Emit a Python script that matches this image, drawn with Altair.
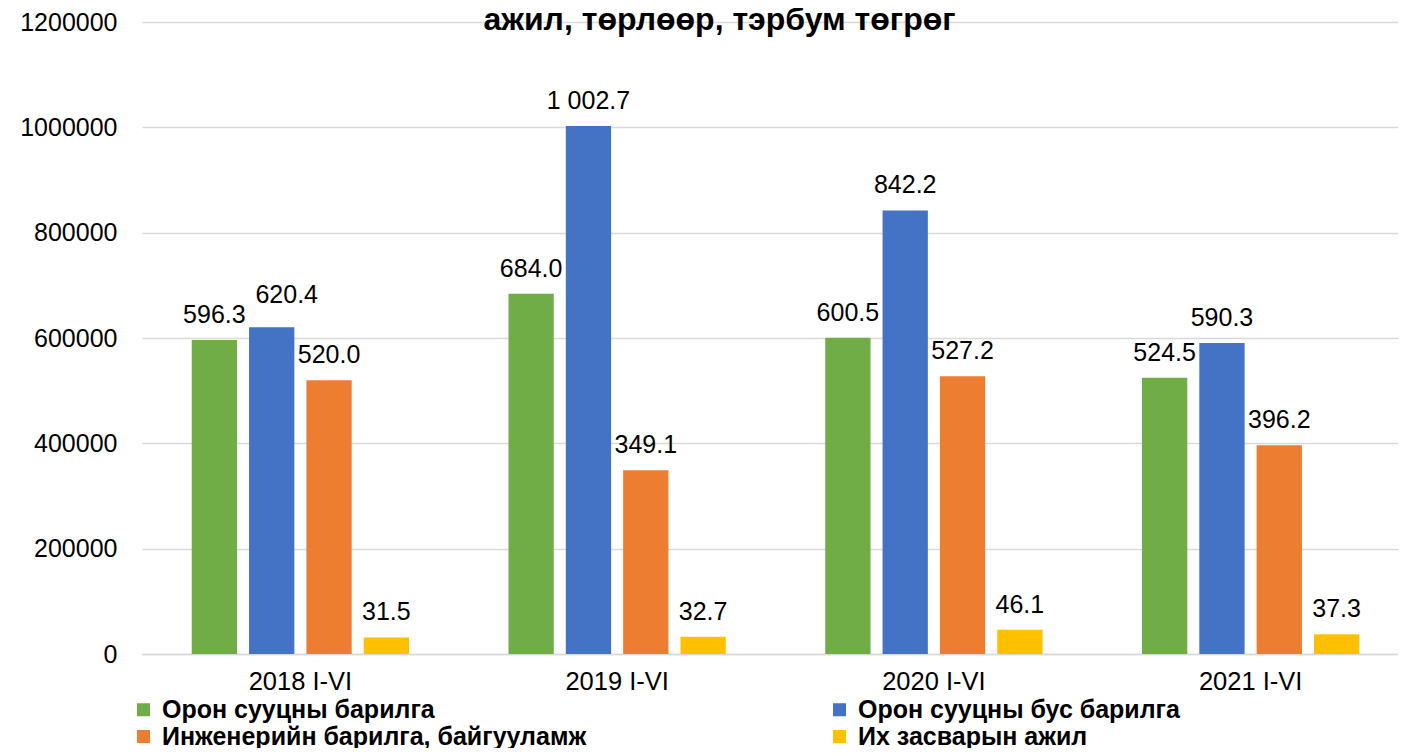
import altair as alt
import pandas as pd

periods = ["2018 I-VI", "2019 I-VI", "2020 I-VI", "2021 I-VI"]
series = [
    "Орон сууцны барилга",
    "Орон сууцны бус барилга",
    "Инженерийн барилга, байгууламж",
    "Их засварын ажил",
]
colors = ["#70AD47", "#4472C4", "#ED7D31", "#FFC000"]

residential = [596300, 684000, 600500, 524500]
nonresidential = [620400, 1002700, 842200, 590300]
engineering = [520000, 349100, 527200, 396200]
repair = [31500, 32700, 46100, 37300]

labels_residential = ["596.3", "684.0", "600.5", "524.5"]
labels_nonresidential = ["620.4", "1 002.7", "842.2", "590.3"]
labels_engineering = ["520.0", "349.1", "527.2", "396.2"]
labels_repair = ["31.5", "32.7", "46.1", "37.3"]

title_text = "ажил, төрлөөр, тэрбум төгрөг"

values = [residential, nonresidential, engineering, repair]
labels = [labels_residential, labels_nonresidential, labels_engineering, labels_repair]

rows = []
for si, s in enumerate(series):
    for pi, p in enumerate(periods):
        rows.append({
            "period": p,
            "series": s,
            "value": values[si][pi],
            "label": labels[si][pi],
            "shifted": (si == 1 and pi == 0),
        })
df = pd.DataFrame(rows)

# legend is filled column by column: reorder so rows read as in the reference
legend_order = [series[0], series[2], series[1], series[3]]
legend_colors = [colors[0], colors[2], colors[1], colors[3]]

FONT = "Liberation Sans"

x_enc = alt.X(
    "period:N", sort=periods, title=None,
    scale=alt.Scale(paddingInner=0.276, paddingOuter=0.138),
    axis=alt.Axis(labelAngle=0, labelFontSize=25.5, labelFont=FONT, labelColor="#000000",
                  labelPadding=15, ticks=False, domainColor="#D9D9D9", domainWidth=1.5,
                  grid=False),
)
xoff_enc = alt.XOffset(
    "series:N", sort=series,
    scale=alt.Scale(paddingInner=0.21, paddingOuter=0.105),
)
y_enc = alt.Y(
    "value:Q", title=None,
    scale=alt.Scale(domain=[0, 1200000], nice=False),
    axis=alt.Axis(values=[0, 200000, 400000, 600000, 800000, 1000000, 1200000],
                  format="d", labelFontSize=25, labelFont=FONT, labelColor="#000000",
                  labelPadding=25, ticks=False, domain=False,
                  gridColor="#D9D9D9", gridWidth=1.5),
)

base = alt.Chart(df).encode(x=x_enc, xOffset=xoff_enc, y=y_enc)

bars = base.mark_bar().encode(
    color=alt.Color(
        "series:N",
        scale=alt.Scale(domain=legend_order, range=legend_colors),
        legend=alt.Legend(
            title=None, orient="none", legendX=-11, legendY=675, columns=2,
            columnPadding=240, rowPadding=1, symbolType="square", symbolSize=169,
            symbolStrokeWidth=0, labelFontSize=25, labelFont=FONT,
            labelFontWeight="bold", labelColor="#000000", labelLimit=700,
            labelOffset=6,
        ),
    )
)

text_normal = base.transform_filter("!datum.shifted").mark_text(
    dy=-17, baseline="alphabetic", fontSize=25, font=FONT, color="#000000"
).encode(text="label:N")

text_shifted = base.transform_filter("datum.shifted").mark_text(
    dy=-24, dx=15, baseline="alphabetic", fontSize=25, font=FONT, color="#000000"
).encode(text="label:N")

chart = (
    alt.layer(bars, text_normal, text_shifted)
    .properties(
        width=1267, height=632,
        autosize=alt.AutoSizeParams(type="none"),
        padding={"left": 134, "top": 14, "right": -11, "bottom": 94},
        title=alt.TitleParams(
            title_text, fontSize=32, font=FONT, fontWeight="bold", color="#000000",
            anchor="middle", dx=-56, offset=-27,
        ),
    )
    .configure_view(stroke=None)
)

chart.save("out.html", embed_options={"renderer": "svg", "actions": False})
